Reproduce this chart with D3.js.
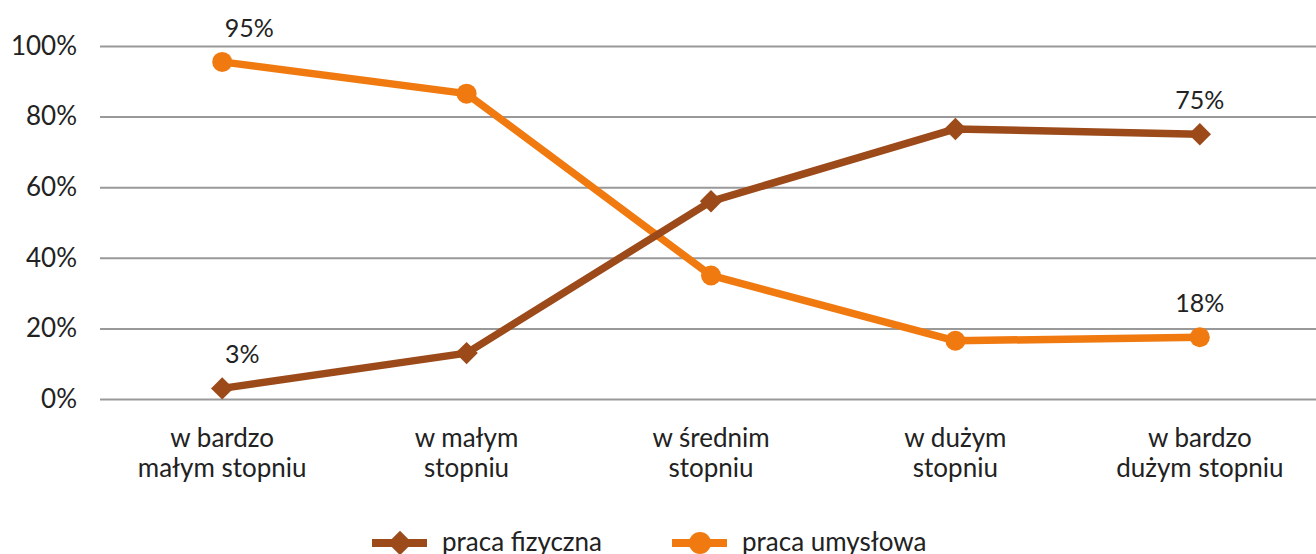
<!DOCTYPE html>
<html><head><meta charset="utf-8">
<script src="https://d3js.org/d3.v7.min.js"></script>
<style>
  body { margin: 0; background: #fff; }
  text { font-family: Lato, "Open Sans", sans-serif; fill: #222; }
</style>
</head><body>
<svg id="chart" width="1316" height="554"></svg>
<script>
var categories = [["w bardzo", "małym stopniu"], ["w małym", "stopniu"], ["w średnim", "stopniu"], ["w dużym", "stopniu"], ["w bardzo", "dużym stopniu"]];
var fizyczna = [3, 13, 56, 76.5, 75];
var umyslowa = [95.5, 86.5, 35, 16.5, 17.5];
var yTicks = [0, 20, 40, 60, 80, 100];
var seriesNames = ["praca fizyczna", "praca umysłowa"];
// which points carry a value label: [series, index, text, dx]
var pointLabels = [[1, 0, "95%", 27], [0, 0, "3%", 20], [0, 4, "75%", 0], [1, 4, "18%", 0]];

var brown = "#9c4a1a", orange = "#f07a10";
var svg = d3.select("#chart");
var plotLeft = 100, plotRight = 1322, plotTop = 46, plotBottom = 399;

var x = d3.scaleBand().domain(d3.range(categories.length)).range([plotLeft, plotRight]);
var y = d3.scaleLinear().domain([0, 100]).range([plotBottom, plotTop]);

// grid + y labels
var yAxis = svg.append("g").attr("transform", "translate(" + plotLeft + ",0)")
  .call(d3.axisLeft(y).tickValues(yTicks).tickSize(-(plotRight - plotLeft)).tickPadding(23).tickFormat(function(d) { return d + "%"; }));
yAxis.select(".domain").remove();
yAxis.selectAll("line").attr("stroke", "#999").attr("stroke-width", 2).attr("x1", 0);
yAxis.selectAll("text").style("font-size", "26px").style("font-family", "Lato, sans-serif").attr("fill", "#222");

// category labels
var cat = svg.append("g").selectAll("text").data(categories).enter().append("text")
  .attr("text-anchor", "middle").style("font-size", "26px")
  .attr("x", function(d, i) { return x(i) + x.bandwidth() / 2; })
  .attr("y", 447);
cat.append("tspan").text(function(d) { return d[0]; });
cat.append("tspan").attr("dy", 30).attr("x", function(d, i) { return x(i) + x.bandwidth() / 2; }).text(function(d) { return d[1]; });

var cx = function(d, i) { return x(i) + x.bandwidth() / 2; };
var line = d3.line().x(cx).y(function(d) { return y(d); });
var diamond = d3.symbol().type(d3.symbolDiamond2).size(320);

function drawSeries(data, color, marker) {
  var g = svg.append("g");
  g.append("path").datum(data).attr("d", line).attr("fill", "none")
    .attr("stroke", color).attr("stroke-width", 7.5).attr("stroke-linejoin", "round");
  if (marker === "diamond") {
    g.selectAll("path.m").data(data).enter().append("path").attr("class", "m")
      .attr("d", diamond).attr("fill", color)
      .attr("transform", function(d, i) { return "translate(" + cx(d, i) + "," + y(d) + ")"; });
  } else {
    g.selectAll("circle").data(data).enter().append("circle")
      .attr("cx", cx).attr("cy", function(d) { return y(d); }).attr("r", 10).attr("fill", color);
  }
}
drawSeries(umyslowa, orange, "circle");
drawSeries(fizyczna, brown, "diamond");

var allSeries = [fizyczna, umyslowa];
svg.append("g").selectAll("text").data(pointLabels).enter().append("text")
  .attr("text-anchor", "middle").style("font-size", "25px")
  .attr("x", function(d) { return cx(null, d[1]) + d[3]; })
  .attr("y", function(d) { return y(allSeries[d[0]][d[1]]) - 25; })
  .text(function(d) { return d[2]; });

// legend
var legendDiamond = d3.symbol().type(d3.symbolDiamond2).size(380);
var legend = [[seriesNames[0], brown, "diamond", 372], [seriesNames[1], orange, "circle", 672]];
var lg = svg.append("g").selectAll("g").data(legend).enter().append("g")
  .attr("transform", function(d) { return "translate(" + d[3] + ",543)"; });
lg.append("line").attr("x1", 0).attr("x2", 55).attr("stroke", function(d) { return d[1]; }).attr("stroke-width", 8);
lg.each(function(d) {
  var s = d3.select(this);
  if (d[2] === "diamond") s.append("path").attr("d", legendDiamond).attr("fill", d[1]).attr("transform", "translate(28,0)");
  else s.append("circle").attr("cx", 28).attr("r", 11).attr("fill", d[1]);
});
lg.append("text").attr("x", 70).attr("y", 8).style("font-size", "26px").text(function(d) { return d[0]; });
</script>
</body></html>
